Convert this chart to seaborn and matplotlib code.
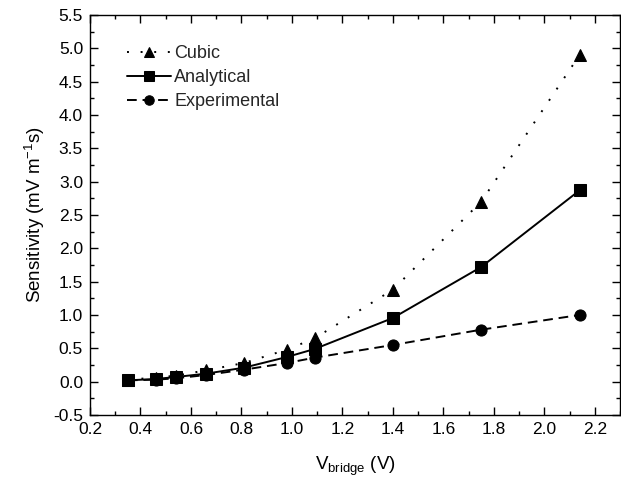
import matplotlib
matplotlib.use("Agg")
import matplotlib.pyplot as plt
import seaborn as sns
import pandas as pd
from matplotlib.ticker import MultipleLocator

v_bridge = [0.35, 0.46, 0.54, 0.66, 0.81, 0.98, 1.09, 1.40, 1.75, 2.14]
cubic = [0.03, 0.06, 0.09, 0.17, 0.28, 0.48, 0.65, 1.38, 2.70, 4.90]
analytical = [0.02, 0.04, 0.07, 0.12, 0.21, 0.37, 0.49, 0.955, 1.72, 2.87]
experimental = [0.02, 0.03, 0.05, 0.10, 0.18, 0.28, 0.36, 0.55, 0.78, 1.00]

series_names = ["Cubic", "Analytical", "Experimental"]
series_values = [cubic, analytical, experimental]

sns.set_theme(style="ticks")
plt.rcParams["font.family"] = ["Liberation Sans", "DejaVu Sans"]
plt.rcParams["mathtext.fontset"] = "custom"
plt.rcParams["mathtext.rm"] = "Liberation Sans"
plt.rcParams["mathtext.it"] = "Liberation Sans"

fig = plt.figure(figsize=(6.21, 4.93), dpi=100)
ax = fig.add_axes([90/621, 1-415/493, 530/621, 400/493])

styles = {
    "Cubic": dict(marker="^", linestyle=(0, (1, 6))),
    "Analytical": dict(marker="s", linestyle="-"),
    "Experimental": dict(marker="o", linestyle=(0, (5, 3))),
}

for name, vals in zip(series_names, series_values):
    df = pd.DataFrame({"V": v_bridge, "S": vals})
    st = styles[name]
    sns.lineplot(data=df, x="V", y="S", ax=ax, color="black", linewidth=1.4,
                 linestyle=st["linestyle"], marker=st["marker"], markersize=8,
                 markeredgecolor="black", markerfacecolor="black", label=name)

ax.set_xlim(0.2, 2.3)
ax.set_ylim(-0.5, 5.5)
ax.xaxis.set_major_locator(MultipleLocator(0.2))
ax.xaxis.set_minor_locator(MultipleLocator(0.1))
ax.yaxis.set_major_locator(MultipleLocator(0.5))
ax.yaxis.set_minor_locator(MultipleLocator(0.25))
ax.xaxis.set_major_formatter(matplotlib.ticker.FormatStrFormatter("%.1f"))
ax.yaxis.set_major_formatter(matplotlib.ticker.FormatStrFormatter("%.1f"))
ax.tick_params(which="both", direction="in", top=True, right=True, color="black",
               width=1.0, labelsize=12.5, labelcolor="black")
ax.tick_params(which="major", length=6, pad=5)
ax.tick_params(which="minor", length=3)
for sp in ax.spines.values():
    sp.set_color("black")
    sp.set_linewidth(1.0)

ax.set_xlabel(r"V$_{\mathrm{bridge}}$ (V)", fontsize=13.5, color="black", labelpad=13)
ax.set_ylabel(r"Sensitivity (mV m$^{\mathrm{-1}}$s)", fontsize=13.5, color="black", labelpad=4)

leg = ax.legend(loc="upper left", bbox_to_anchor=(0.04, 0.965), frameon=False,
                fontsize=13, handlelength=2.4, handletextpad=0.2, labelspacing=0.38,
                markerscale=0.85)

fig.savefig("out.png", dpi=100)
